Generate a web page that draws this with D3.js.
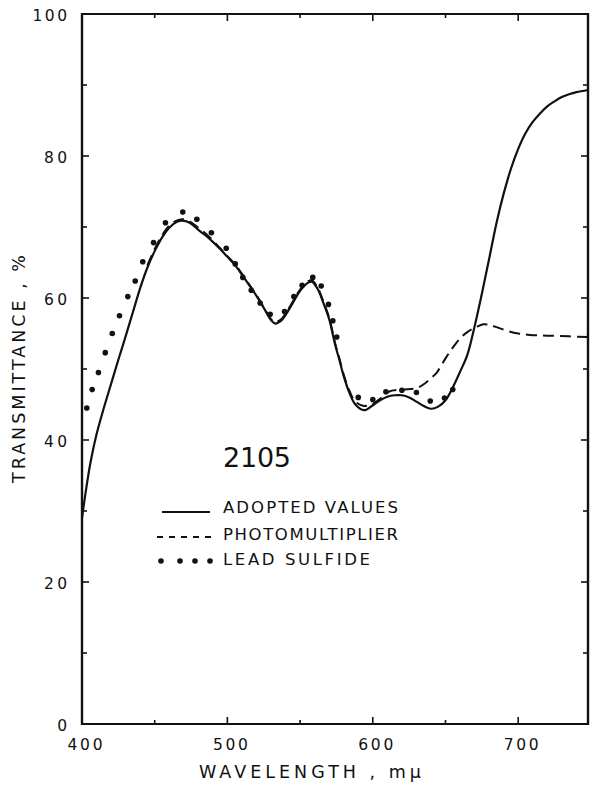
<!DOCTYPE html>
<html>
<head>
<meta charset="utf-8">
<script src="https://cdn.jsdelivr.net/npm/d3@7"></script>
<style>
  html, body { margin: 0; padding: 0; background: #fff; }
  svg { display: block; }
  text { font-family: "DejaVu Sans", sans-serif; fill: #111; }
</style>
</head>
<body>
<svg id="chart" width="592" height="786"></svg>
<script>
// Filter 2105 transmittance spectrum
const adoptedWavelength = [400, 403, 406, 410, 415, 420, 425, 430, 435, 440, 445, 450, 455, 460, 465, 469, 474, 480, 485, 490, 495, 500, 505, 510, 515, 520, 525, 530, 533, 537, 540, 545, 550, 555, 558, 562, 566, 570, 574, 577, 580, 584, 588, 594, 600, 605, 610, 615, 620, 625, 630, 635, 640, 645, 650, 655, 660, 665, 670, 675, 680, 685, 690, 695, 700, 705, 710, 715, 720, 725, 730, 735, 740, 748];
const adoptedValues = [29.0, 33.3, 37.0, 40.8, 44.5, 47.9, 51.3, 54.6, 58.0, 61.4, 64.3, 66.6, 68.5, 69.9, 70.7, 70.9, 70.6, 69.6, 68.8, 67.9, 66.9, 65.8, 64.7, 63.3, 61.8, 60.3, 58.6, 56.9, 56.4, 56.8, 57.6, 59.3, 61.0, 62.1, 62.3, 61.3, 59.3, 57.0, 53.5, 51.3, 49.0, 46.6, 45.0, 44.2, 44.9, 45.6, 46.1, 46.3, 46.3, 46.0, 45.4, 44.8, 44.4, 44.7, 45.6, 47.4, 49.6, 52.0, 56.0, 60.6, 65.5, 70.5, 74.7, 78.2, 81.0, 83.2, 84.8, 86.0, 87.0, 87.7, 88.3, 88.7, 89.0, 89.3];

const photoWavelength = [445, 450, 455, 460, 465, 469, 474, 480, 485, 490, 495, 500, 505, 510, 515, 520, 525, 530, 533, 537, 540, 545, 550, 555, 558, 562, 566, 570, 574, 577, 580, 584, 588, 594, 600, 605, 611, 620, 630, 636, 640, 644, 650, 655, 660, 665, 671, 676, 680, 685, 692, 700, 708, 720, 735, 748];
const photoValues = [64.6, 66.9, 68.8, 70.2, 70.9, 71.1, 70.8, 69.9, 69.1, 68.1, 67.0, 65.9, 64.8, 63.4, 61.9, 60.4, 58.7, 57.0, 56.6, 57.0, 57.8, 59.5, 61.2, 62.3, 62.5, 61.5, 59.5, 57.2, 53.7, 51.5, 49.2, 46.9, 45.4, 44.8, 45.1, 45.8, 46.8, 47.1, 47.3, 48.0, 48.7, 49.5, 51.5, 53.0, 54.3, 55.2, 55.9, 56.3, 56.2, 55.9, 55.4, 55.0, 54.8, 54.7, 54.6, 54.5];

const leadWavelength = [403.3, 407, 411.3, 416, 420.8, 425.8, 431.5, 436.6, 441.8, 449.2, 457.4, 469.3, 479, 489, 499.2, 505.4, 510.6, 516.4, 522.5, 529.4, 539.3, 545.7, 551.4, 558.7, 564.5, 569.5, 572.5, 575.2, 590, 600, 609, 620, 630, 639.5, 649.3, 655];
const leadValues = [44.5, 47.1, 49.5, 52.3, 55.0, 57.5, 60.2, 62.4, 65.1, 67.8, 70.6, 72.1, 71.1, 69.2, 67.0, 64.8, 62.9, 61.1, 59.3, 57.7, 58.1, 60.2, 61.8, 62.9, 61.7, 59.1, 56.8, 54.5, 46.0, 45.7, 46.8, 47.0, 46.7, 45.5, 45.9, 47.1];

const yTickLabels = ["0", "20", "40", "60", "80", "100"];
const xTickLabels = ["400", "500", "600", "700"];
const legendLabels = ["ADOPTED  VALUES", "PHOTOMULTIPLIER", "LEAD  SULFIDE"];
const filterLabel = "2105";

const svg = d3.select("#chart");
svg.append("rect").attr("width", 592).attr("height", 786).attr("fill", "#fff");

const x = d3.scaleLinear().domain([400, 748]).range([82, 588]);
const y = d3.scaleLinear().domain([0, 100]).range([724, 14]);

const ink = "#111";

// Frame with inward ticks on all four sides
const frame = svg.append("g");
const x0 = x.range()[0], x1 = x.range()[1], y0 = y.range()[0], y1 = y.range()[1];

const yTicks = d3.range(10, 100, 10);
yTicks.forEach(v => {
  const len = v % 20 === 0 ? 7 : 5;
  frame.append("line").attr("x1", x0).attr("x2", x0 + len).attr("y1", y(v)).attr("y2", y(v))
    .attr("stroke", ink).attr("stroke-width", 1.6);
  frame.append("line").attr("x1", x1).attr("x2", x1 - len).attr("y1", y(v)).attr("y2", y(v))
    .attr("stroke", ink).attr("stroke-width", 1.6);
});
const xTicks = d3.range(450, 748, 50);
xTicks.forEach(v => {
  const len = v % 100 === 0 ? 7 : 4;
  frame.append("line").attr("x1", x(v)).attr("x2", x(v)).attr("y1", y0).attr("y2", y0 - len)
    .attr("stroke", ink).attr("stroke-width", 1.6);
  frame.append("line").attr("x1", x(v)).attr("x2", x(v)).attr("y1", y1).attr("y2", y1 + len)
    .attr("stroke", ink).attr("stroke-width", 1.6);
});
frame.append("line").attr("x1", x0).attr("x2", x1).attr("y1", y1).attr("y2", y1).attr("stroke", ink).attr("stroke-width", 1.8);
frame.append("line").attr("x1", x0).attr("x2", x1).attr("y1", y0).attr("y2", y0).attr("stroke", ink).attr("stroke-width", 2.2);
frame.append("line").attr("x1", x0).attr("x2", x0).attr("y1", y1 - 1).attr("y2", y0 + 1).attr("stroke", ink).attr("stroke-width", 2.4);
frame.append("line").attr("x1", x1).attr("x2", x1).attr("y1", y1 - 1).attr("y2", y0 + 1).attr("stroke", ink).attr("stroke-width", 2.4);

// Tick labels
yTickLabels.forEach(t => {
  const v = +t;
  svg.append("text").attr("x", 67).attr("y", y(v) + 7)
    .attr("text-anchor", "end").attr("font-size", 15.5)
    .attr("textLength", t.length * 11.5).attr("lengthAdjust", "spacing")
    .text(t);
});
xTickLabels.forEach(t => {
  const v = +t;
  svg.append("text").attr("x", x(v) + 3).attr("y", 750)
    .attr("text-anchor", "middle").attr("font-size", 15.5)
    .attr("textLength", 35).attr("lengthAdjust", "spacing")
    .text(t);
});

// Axis titles
svg.append("text").attr("x", 310).attr("y", 778).attr("text-anchor", "middle")
  .attr("font-size", 17.5).attr("textLength", 222).attr("lengthAdjust", "spacing")
  .text("WAVELENGTH  ,  m\u03BC");
svg.append("text").attr("transform", "translate(25,369) rotate(-90)")
  .attr("text-anchor", "middle").attr("font-size", 17.5)
  .attr("textLength", 228).attr("lengthAdjust", "spacing")
  .text("TRANSMITTANCE  ,  %");

// Curves
const line = d3.line().x(d => x(d[0])).y(d => y(d[1])).curve(d3.curveCatmullRom.alpha(0.5));
const photo = d3.zip(photoWavelength, photoValues);
const adopted = d3.zip(adoptedWavelength, adoptedValues);
const lead = d3.zip(leadWavelength, leadValues);

svg.append("path").datum(photo).attr("d", line).attr("fill", "none")
  .attr("stroke", ink).attr("stroke-width", 2).attr("stroke-dasharray", "11,6");
svg.append("path").datum(adopted).attr("d", line).attr("fill", "none")
  .attr("stroke", ink).attr("stroke-width", 2.2);
svg.append("g").selectAll("circle").data(lead).join("circle")
  .attr("cx", d => x(d[0])).attr("cy", d => y(d[1])).attr("r", 2.8).attr("fill", ink);

// Filter number
svg.append("text").attr("x", 223).attr("y", 467).attr("font-size", 27)
  .attr("textLength", 68).attr("lengthAdjust", "spacing").text(filterLabel);

// Legend
const legend = svg.append("g");
const legendRows = [513, 540, 565];
const legendWidths = [175, 175, 147];
legendLabels.forEach((t, i) => {
  legend.append("text").attr("x", 223).attr("y", legendRows[i]).attr("font-size", 16.5)
    .attr("textLength", legendWidths[i]).attr("lengthAdjust", "spacing").text(t);
});
legend.append("line").attr("x1", 162).attr("x2", 210).attr("y1", 512).attr("y2", 512)
  .attr("stroke", ink).attr("stroke-width", 2);
legend.append("line").attr("x1", 157).attr("x2", 212).attr("y1", 537).attr("y2", 537)
  .attr("stroke", ink).attr("stroke-width", 2).attr("stroke-dasharray", "6,6");
[161, 180, 195, 210].forEach(cx => {
  legend.append("circle").attr("cx", cx).attr("cy", 561).attr("r", 2.8).attr("fill", ink);
});
</script>
</body>
</html>
